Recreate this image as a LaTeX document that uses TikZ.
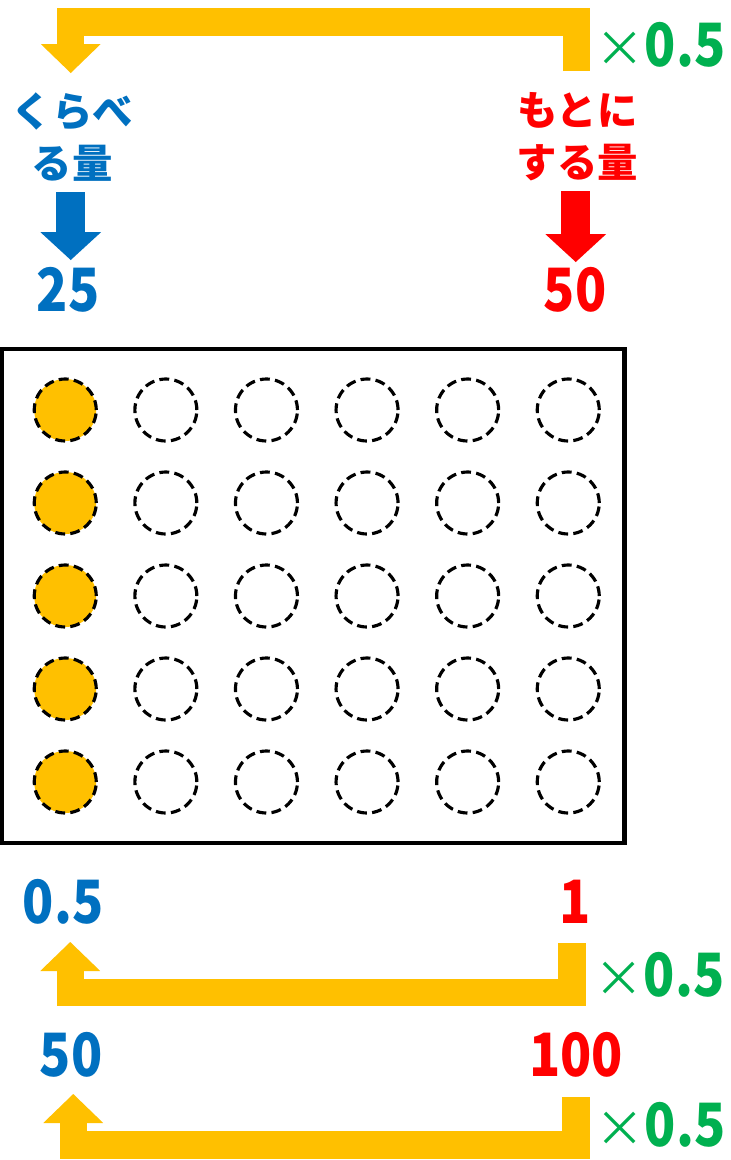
\documentclass[tikz,border=0pt]{standalone}
\usepackage{fontspec}
\newfontfamily\jp{Noto Sans CJK JP}
\newfontfamily\numf[FakeStretch=0.86]{Noto Sans CJK JP}
\definecolor{kblue}{RGB}{0,112,192}
\definecolor{mred}{RGB}{255,0,0}
\definecolor{wgreen}{RGB}{0,176,80}
\definecolor{wyellow}{RGB}{255,192,0}
\usetikzlibrary{arrows.meta}

\begin{document}
\begin{tikzpicture}[x=0.02cm, y=-0.02cm,
  bent/.style={draw=wyellow, line width=0.55cm, -{Triangle[width=1.2cm, length=0.58cm, line width=0pt]}},
  down/.style={line width=0.58cm, -{Triangle[width=1.22cm, length=0.56cm, line width=0pt]}},
  word/.style={font=\jp\bfseries\fontsize{23}{29.5}\selectfont, align=center, inner sep=0pt},
  val/.style={font=\numf\bfseries\fontsize{34}{40}\selectfont, inner sep=0pt},
  rate/.style={text=wgreen, anchor=west, inner sep=0pt},
  maru/.style={draw=black, line width=1.8pt, dash pattern=on 5.6pt off 3pt}
]
  \path[fill=white] (0,0) rectangle (730,1160);

  % labels
  \node[word, text=kblue] (kurabe) at (72,137) {くらべ\\る量};
  \node[word, text=mred] (motoni) at (577,137) {もとに\\する量};
  \node[val, text=kblue] (v25) at (68,290) {25};
  \node[val, text=mred] (v50) at (575,290) {50};
  \node[val, text=kblue] (v05) at (63,902) {0.5};
  \node[val, text=mred] (v1) at (575,902) {1};
  \node[val, text=kblue] (w50) at (71,1055) {50};
  \node[val, text=mred] (w100) at (576,1055) {100};
  \node[rate] (r1) at (595,45) {{\jp\fontsize{28}{30}\selectfont ×}{\numf\bfseries\fontsize{34}{40}\selectfont 0.5}};
  \node[rate] (r2) at (594,975) {{\jp\fontsize{28}{30}\selectfont ×}{\numf\bfseries\fontsize{34}{40}\selectfont 0.5}};
  \node[rate] (r3) at (595,1125) {{\jp\fontsize{28}{30}\selectfont ×}{\numf\bfseries\fontsize{34}{40}\selectfont 0.5}};

  % bent arrows
  \coordinate (s1) at (576,71);
  \coordinate (e1) at (70.5,73);
  \coordinate (s2) at (571.5,943);
  \coordinate (e2) at (70,942);
  \coordinate (s3) at (575.5,1097);
  \coordinate (e3) at (73,1094);
  \draw[bent] (s1) -- ++(0,-49) -| (e1);
  \draw[bent] (s2) -- ++(0,49.5) -| (e2);
  \draw[bent] (s3) -- ++(0,48) -| (e3);

  % down arrows
  \coordinate (b1) at (70.5,192);
  \coordinate (b2) at (70.5,260);
  \coordinate (m1) at (575.5,191);
  \coordinate (m2) at (575.5,262);
  \draw[down, kblue] (b1) -- (b2);
  \draw[down, mred] (m1) -- (m2);

  % box with circles
  \draw[line width=0.09cm] (2,349) rectangle (624,843);
  \foreach \r in {0,...,4}
    \fill[wyellow] (65,410+93*\r) circle[radius=0.62cm];
  \foreach \c in {0,...,5}
    \foreach \r in {0,...,4}
      \draw[maru] (65+100.6*\c,410+93*\r) circle[radius=0.62cm];
\end{tikzpicture}
\end{document}
